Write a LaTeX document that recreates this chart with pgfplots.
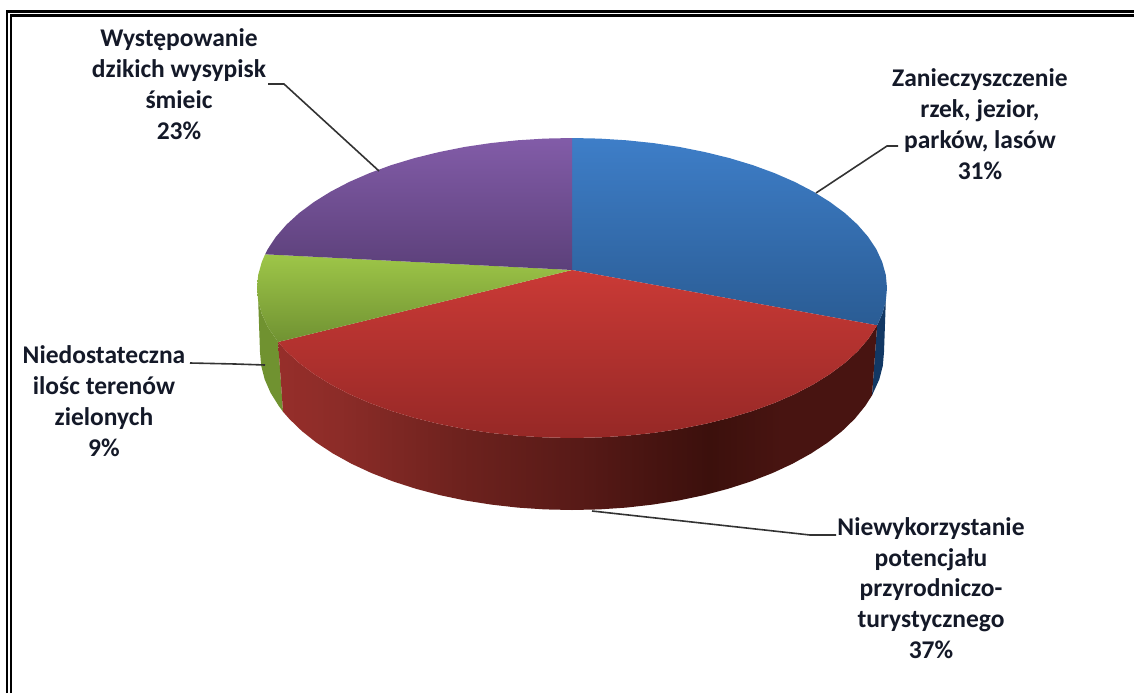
\documentclass[border=0pt]{standalone}
\usepackage{pgfplots}
\pgfplotsset{compat=1.18}
\usepackage{fontspec}
\setmainfont{Carlito}

\definecolor{labeltext}{RGB}{20,25,40}

% side wall of the red slice, dark towards the right
% (tikz fits the middle of the shading, 25bp to 75bp, to the path)
\definecolor{rw0}{RGB}{150,46,42}
\definecolor{rw1}{RGB}{140,44,40}
\definecolor{rw2}{RGB}{110,34,30}
\definecolor{rw3}{RGB}{88,26,23}
\definecolor{rw4}{RGB}{72,20,17}
\definecolor{rw5}{RGB}{60,16,12}
\pgfdeclarehorizontalshading{redwall}{100bp}{
  color(0bp)=(rw0);
  color(25bp)=(rw0);
  color(30bp)=(rw1);
  color(40bp)=(rw2);
  color(50bp)=(rw3);
  color(56bp)=(rw4);
  color(61bp)=(rw5);
  color(67bp)=(rw4);
  color(100bp)=(rw4)}

\tikzset{lab/.style={align=center, text=labeltext, font=\fontsize{25.5}{30.8}\selectfont\bfseries}}

\begin{document}
\begin{tikzpicture}
\begin{axis}[
    scale only axis,
    width=1134pt,
    height=693pt,
    xmin=0, xmax=1134,
    ymin=0, ymax=693,
    y dir=reverse,
    axis lines=none,
    clip=true,
]
\path (axis cs:0,0) rectangle (axis cs:1134,693);
% side walls
\addplot[draw=none, fill={rgb,255:red,18;green,56;blue,100}] coordinates {
(877.1,325.3) (882.2,314) (885.8,301.1) (884,352) (882.8,365.8) (879.3,379.4) (872,395.4)};
\addplot[draw=none, fill={rgb,255:red,112;green,146;blue,48}] coordinates {
(278.1,342) (267.7,326.8) (261.8,314) (258.2,301.1) (260,352) (261.2,365.8) (264.7,379.4) (270.6,392.9) (278.8,406) (283,411.7)};
\addplot[draw=none, shading=redwall] coordinates {
(278.1,342) (286.5,351.4) (299.2,363) (314,374) (330.7,384.4) (349.3,394.1) (369.5,402.9) (391.3,410.9)
(414.5,417.9) (438.9,423.9) (464.3,429) (490.5,432.9) (517.3,435.7) (544.5,437.4) (572,438)
(599.5,437.4) (626.7,435.7) (653.5,432.9) (679.7,429) (705.1,423.9) (729.5,417.9) (752.7,410.9)
(774.5,402.9) (794.7,394.1) (813.3,384.4) (830,374) (844.8,363) (857.5,351.4) (868,339.3) (877.1,325.3)
(872,395.4) (865.2,406) (854.8,418.8) (842.2,431) (827.6,442.6) (811,453.5) (792.6,463.7) (772.6,473)
(751,481.4) (728,488.8) (703.9,495.2) (678.7,500.5) (652.7,504.6) (626.2,507.6) (599.2,509.4) (572,510)
(544.8,509.4) (517.8,507.6) (491.3,504.6) (465.3,500.5) (440.1,495.2) (416,488.8) (393,481.4) (371.4,473)
(351.4,463.7) (333,453.5) (316.4,442.6) (301.8,431) (289.2,418.8) (283,411.7)};
% top faces
\addplot[draw=none, top color={rgb,255:red,62;green,126;blue,200}, bottom color={rgb,255:red,42;green,92;blue,148}] coordinates {
(572,270) (572,138) (599.5,138.6) (626.7,140.3) (653.5,143.1) (679.7,147) (705.1,152.1) (729.5,158.1)
(752.7,165.1) (774.5,173.1) (794.7,181.9) (813.3,191.6) (830,202) (844.8,213) (857.5,224.6) (868,236.7)
(876.3,249.2) (882.2,262) (885.8,274.9) (887,288) (885.8,301.1) (882.2,314) (877.1,325.3)};
\addplot[draw=none, top color={rgb,255:red,202;green,58;blue,54}, bottom color={rgb,255:red,150;green,40;blue,38}] coordinates {
(572,270) (877.1,325.3) (868,339.3) (857.5,351.4) (844.8,363) (830,374) (813.3,384.4) (794.7,394.1)
(774.5,402.9) (752.7,410.9) (729.5,417.9) (705.1,423.9) (679.7,429) (653.5,432.9) (626.7,435.7) (599.5,437.4)
(572,438) (544.5,437.4) (517.3,435.7) (490.5,432.9) (464.3,429) (438.9,423.9) (414.5,417.9) (391.3,410.9)
(369.5,402.9) (349.3,394.1) (330.7,384.4) (314,374) (299.2,363) (286.5,351.4) (278.1,342)};
\addplot[draw=none, top color={rgb,255:red,158;green,198;blue,72}, bottom color={rgb,255:red,112;green,146;blue,50}] coordinates {
(572,270) (278.1,342) (267.7,326.8) (261.8,314) (258.2,301.1) (257,288) (258.2,274.9) (261.8,262) (265.1,254.3)};
\addplot[draw=none, top color={rgb,255:red,130;green,92;blue,168}, bottom color={rgb,255:red,92;green,64;blue,122}] coordinates {
(572,270) (265.1,254.3) (267.7,249.2) (276,236.7) (286.5,224.6) (299.2,213) (314,202) (330.7,191.6) (349.3,181.9)
(369.5,173.1) (391.3,165.1) (414.5,158.1) (438.9,152.1) (464.3,147) (490.5,143.1) (517.3,140.3) (544.5,138.6) (572,138)};
% leader lines
\addplot[black!80, line width=1.6pt] coordinates {(268,84) (284,84) (379,171)};
\addplot[black!80, line width=1.6pt] coordinates {(898,146) (887,146) (816,193)};
\addplot[black!80, line width=1.6pt] coordinates {(190,363) (235,364) (265,365)};
\addplot[black!80, line width=1.6pt] coordinates {(592,511) (810,535) (836,535)};
% double frame, open on the right and at the bottom
\addplot[black, line width=2.6pt] coordinates {(7,693) (7,11.3) (1134,11.3)};
\addplot[black, line width=2.6pt] coordinates {(11,693) (11,15.3) (1134,15.3)};
% labels
\node[lab] at (axis cs:179,84) {Występowanie\\dzikich wysypisk\\śmieic\\23\%};
\node[lab] at (axis cs:980,124) {Zanieczyszczenie\\rzek, jezior,\\parków, lasów\\31\%};
\node[lab] at (axis cs:104,401) {Niedostateczna\\ilośc terenów\\zielonych\\9\%};
\node[lab] at (axis cs:931,588) {Niewykorzystanie\\potencjału\\przyrodniczo-\\turystycznego\\37\%};
\end{axis}
\end{tikzpicture}
\end{document}
